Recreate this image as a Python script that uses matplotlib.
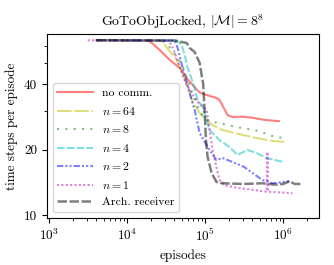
import numpy as np
import matplotlib
matplotlib.use("Agg")
import matplotlib.pyplot as plt
from matplotlib.ticker import FixedLocator, FixedFormatter, NullFormatter

plt.rcParams["font.family"] = "serif"
plt.rcParams["font.serif"] = ["cmr10"]
plt.rcParams["mathtext.fontset"] = "cm"
plt.rcParams["axes.formatter.use_mathtext"] = True

# values (episodes, time steps per episode)
noCommEp = [4000, 18300, 20600, 26000, 34900, 46900, 57700, 63000, 84600, 104000,
            139000, 152000, 177000, 193000, 223000, 300000, 403000, 495000, 608000, 880000]
noCommVal = [63.5, 63.3, 61.7, 57.3, 51.6, 47.4, 42.6, 41.0, 36.5, 35.6,
             34.5, 33.8, 30.5, 28.8, 28.2, 28.3, 28.0, 27.6, 27.3, 27.0]

n64Ep = [4000, 26000, 27600, 30200, 42900, 51300, 57700, 68800, 84600, 104000,
         124000, 166000, 275000, 453000, 726000, 1030000]
n64Val = [63.5, 63.3, 62.5, 60.4, 51.6, 44.9, 39.6, 33.1, 29.4, 27.3,
          25.9, 24.6, 23.5, 22.6, 21.9, 21.7]

n8Ep = [4000, 28400, 34900, 44200, 51300, 57700, 68800, 79700, 92300, 104000,
        120500, 152000, 193000, 251000, 300000, 495000, 664000, 817000, 1060000]
n8Val = [63.5, 63.3, 59.0, 53.0, 48.0, 43.0, 36.0, 31.5, 28.5, 27.5,
         26.8, 26.5, 25.9, 25.4, 25.1, 24.3, 23.3, 22.8, 22.6]

n4Ep = [4000, 42900, 49800, 54400, 59400, 68800, 79700, 92300, 113500, 152000,
        205000, 259000, 347000, 453000, 608000, 1030000]
n4Val = [63.5, 63.3, 60.4, 54.4, 47.4, 40.9, 33.8, 31.4, 24.6, 22.1,
         20.5, 18.9, 19.9, 19.3, 18.3, 17.5]

n2Ep = [4000, 40500, 44200, 51300, 57700, 66800, 73000, 84600, 113500, 139000,
        166000, 275000, 318000, 403000, 541000, 726000, 1030000, 1200000]
n2Val = [63.5, 63.3, 58.5, 47.4, 40.9, 33.8, 30.4, 23.8, 19.9, 17.9,
         18.3, 17.0, 16.6, 15.6, 14.5, 14.0, 14.2, 14.3]

n1Ep = [3100, 32900, 37100, 42900, 49800, 57700, 63000, 79700, 104000, 113500,
        124000, 139000, 152000, 177000, 275000, 453000, 615000, 626000, 637000,
        817000, 1310000]
n1Val = [63.5, 63.3, 60.4, 52.7, 44.9, 39.6, 37.5, 33.1, 30.4, 24.6,
         19.9, 16.6, 14.5, 13.7, 13.3, 13.0, 12.8, 19.5, 12.8,
         12.75, 12.6]

archEp = [4000, 40500, 57700, 63000, 73000, 84600, 89700, 94000, 98000, 102000,
          107000, 120500, 139000, 166000, 300000, 541000, 800000, 1000000, 1200000,
          1400000, 1700000]
archVal = [63.5, 63.3, 61.7, 58.5, 56.1, 50.0, 44.0, 40.0, 30.0, 22.0,
           18.5, 15.6, 14.2, 14.0, 13.9, 14.0, 13.8, 13.9, 14.3, 13.9, 13.9]

fig = plt.figure(figsize=(3.34, 2.65), dpi=100)
ax = fig.add_axes([0.14, 0.177, 0.815, 0.694])

a = 0.5
ax.plot(noCommEp, noCommVal, color="r", alpha=a, lw=1.5, label="no comm.")
ax.plot(n64Ep, n64Val, color="y", alpha=a, lw=1.5, linestyle=(0, (7, 1.3)), label="$n = 64$")
ax.plot(n8Ep, n8Val, color="g", alpha=a, lw=1.5, linestyle=(0, (1, 3)), label="$n = 8$")
ax.plot(n4Ep, n4Val, color="c", alpha=a, lw=1.5, linestyle=(0, (3.7, 1.0)), label="$n = 4$")
ax.plot(n2Ep, n2Val, color="b", alpha=a, lw=1.5, linestyle=(0, (3, 1, 1, 1, 1, 1)), label="$n = 2$")
ax.plot(n1Ep, n1Val, color="m", alpha=a, lw=1.5, linestyle=(0, (1, 1.1)), label="$n = 1$")
ax.plot(archEp, archVal, color="k", alpha=a, lw=1.8, linestyle=(0, (3.8, 1.0)), label="Arch. receiver")

ax.set_xscale("log")
ax.set_yscale("log")
ax.set_xlim(926, 2.87e6)
ax.set_ylim(9.69, 67.7)
ax.yaxis.set_major_locator(FixedLocator([10, 20, 40]))
ax.yaxis.set_major_formatter(FixedFormatter(["10", "20", "40"]))
ax.yaxis.set_minor_locator(FixedLocator([30, 50, 60]))
ax.yaxis.set_minor_formatter(NullFormatter())
ax.tick_params(labelsize=9.5)

ax.set_xlabel("episodes", fontsize=9.5)
ax.set_ylabel("time steps per episode", fontsize=9.5)
ax.set_title(r"GoToObjLocked, $|\mathcal{M}| = 8^8$", fontsize=10)
ax.legend(loc="lower left", fontsize=8.5, handlelength=3.0, handletextpad=0.8,
          labelspacing=0.55)

fig.savefig("out.png", dpi=100)
